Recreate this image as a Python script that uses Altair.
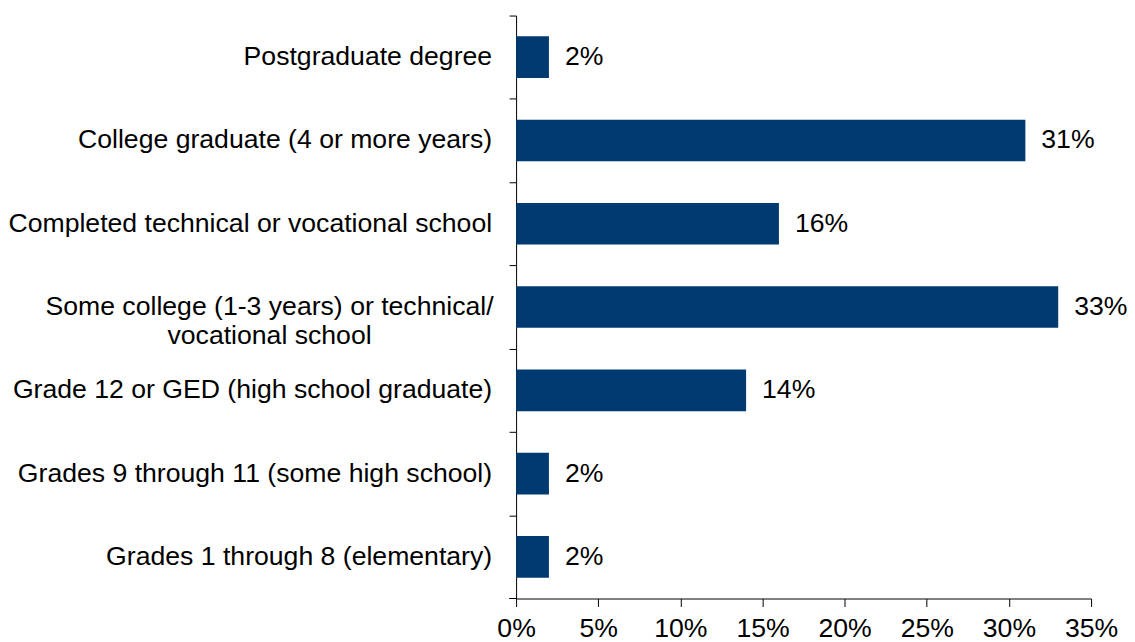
import altair as alt
import pandas as pd

categories = [
    "Postgraduate degree",
    "College graduate (4 or more years)",
    "Completed technical or vocational school",
    "Some college (1-3 years) or technical/ vocational school",
    "Grade 12 or GED (high school graduate)",
    "Grades 9 through 11 (some high school)",
    "Grades 1 through 8 (elementary)",
]
values = [2, 31, 16, 33, 14, 2, 2]
x_ticks = [0, 5, 10, 15, 20, 25, 30, 35]

df = pd.DataFrame({"category": categories, "pct": values})
df["label"] = df["pct"].astype(str) + "%"

FONT = "Liberation Sans"
FS = 26.67
BAR = "#003A70"
W, H = 576, 584
STEP = H / len(categories)

y_enc = alt.Y(
    "category:N",
    sort=categories,
    scale=alt.Scale(paddingInner=0.5, paddingOuter=0.25),
    axis=alt.Axis(
        title=None,
        labels=False,
        grid=False,
        tickOffset=-STEP / 2,
        tickSize=7,
        tickColor="#000000",
        domainColor="#000000",
    ),
)

x_enc = alt.X(
    "pct:Q",
    scale=alt.Scale(domain=[0, 35], nice=False),
    axis=alt.Axis(
        title=None,
        values=x_ticks,
        labelExpr="datum.value + '%'",
        grid=False,
        tickSize=8,
        tickColor="#000000",
        domainColor="#000000",
        labelFont=FONT,
        labelFontSize=FS,
        labelColor="#000000",
        labelPadding=9,
        labelFlush=False,
        orient="bottom",
    ),
)

base = alt.Chart(df)
y_plain = alt.Y("category:N", sort=categories)

bars = base.mark_bar(color=BAR).encode(x=x_enc, y=y_enc)
values_text = base.mark_text(
    align="left", baseline="middle", dx=16, font=FONT, fontSize=FS, color="#000000"
).encode(x="pct:Q", y=y_plain, text="label:N")

cat_single = (
    base.transform_filter("indexof(datum.category, '/ ') < 0")
    .mark_text(align="right", baseline="middle", dx=-24, font=FONT, fontSize=FS, color="#000000")
    .encode(x=alt.value(0), y=y_plain, text="category:N")
)
cat_multi = (
    base.transform_filter("indexof(datum.category, '/ ') >= 0")
    .transform_calculate(disp="replace(datum.category, '/ ', '/|')")
    .mark_text(align="center", baseline="middle", dx=-247, font=FONT, fontSize=FS,
               color="#000000", lineBreak="|", lineHeight=29)
    .encode(x=alt.value(0), y=y_plain, text="disp:N")
)

# bottom tick of the category axis (band boundary at the baseline)
bottom_tick = base.transform_filter("datum.category == '%s'" % categories[0]).mark_rule(
    color="#000000", strokeWidth=1
).encode(x=alt.value(-7), x2=alt.value(0), y=alt.value(H))

chart = (
    alt.layer(bars, values_text, cat_single, cat_multi, bottom_tick)
    .properties(
        width=W,
        height=H,
        background="#ffffff",
        autosize=alt.AutoSizeParams(type="none"),
        padding={"left": 509, "top": 7, "right": 36, "bottom": 44},
    )
    .configure_view(stroke="transparent", strokeWidth=0)
)

chart.save("out.html", embed_options={"renderer": "svg", "actions": False})
